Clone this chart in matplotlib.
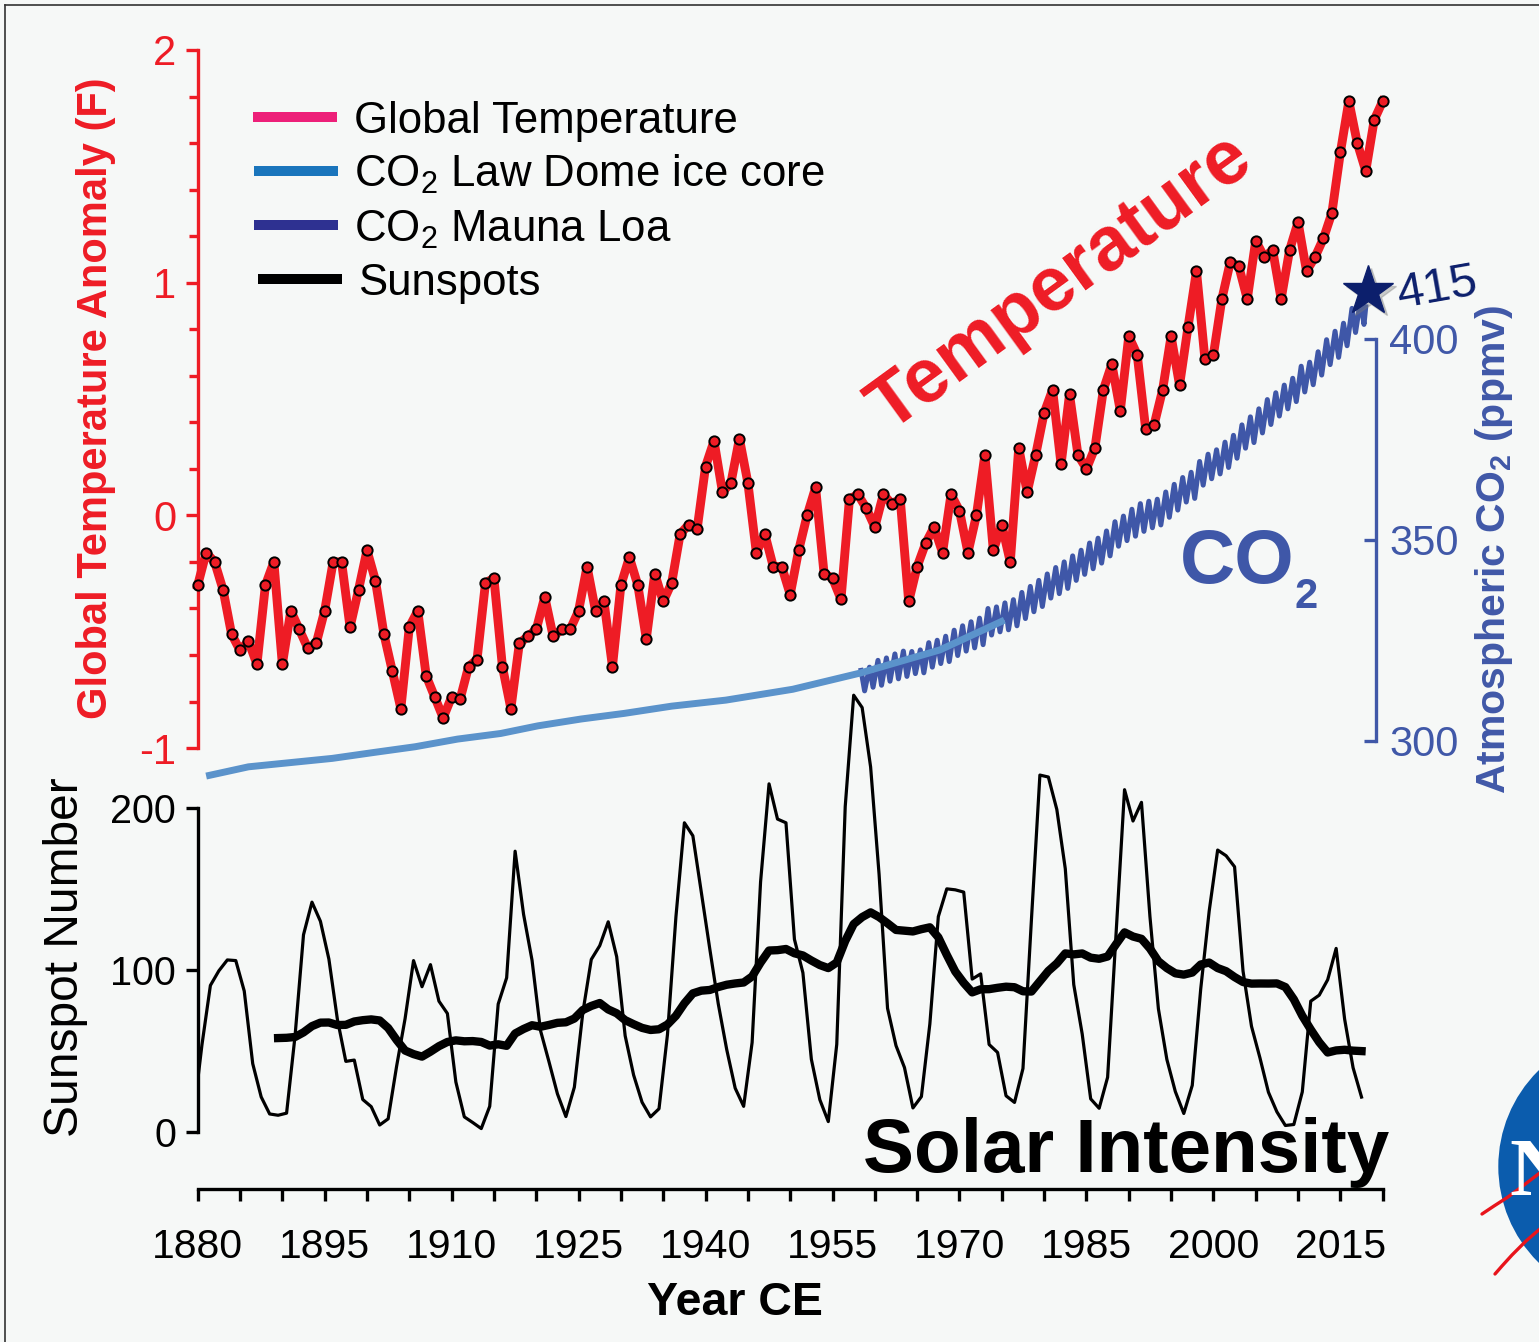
import matplotlib
matplotlib.use("Agg")
import matplotlib.pyplot as plt
import matplotlib.transforms as mtransforms
from matplotlib.lines import Line2D
from matplotlib.patches import Ellipse
import numpy as np
import pandas as pd

plt.rcParams['font.family'] = ['Liberation Sans', 'DejaVu Sans']
plt.rcParams['mathtext.default'] = 'regular'
plt.rcParams['axes.unicode_minus'] = False

# ---- data ----
temp_years = np.arange(1880, 2021)
temp_f = [
    -0.30, -0.16, -0.20, -0.32, -0.51, -0.58, -0.54, -0.64, -0.30, -0.20,   # 1880s
    -0.64, -0.41, -0.49, -0.57, -0.55, -0.41, -0.20, -0.20, -0.48, -0.32,   # 1890s
    -0.15, -0.28, -0.51, -0.67, -0.83, -0.48, -0.41, -0.69, -0.78, -0.87,   # 1900s
    -0.78, -0.79, -0.65, -0.62, -0.29, -0.27, -0.65, -0.83, -0.55, -0.52,   # 1910s
    -0.49, -0.35, -0.52, -0.49, -0.49, -0.41, -0.22, -0.41, -0.37, -0.65,   # 1920s
    -0.30, -0.18, -0.30, -0.53, -0.25, -0.37, -0.29, -0.08, -0.04, -0.06,   # 1930s
    0.21, 0.32, 0.10, 0.14, 0.33, 0.14, -0.16, -0.08, -0.22, -0.22,         # 1940s
    -0.34, -0.15, 0.00, 0.12, -0.25, -0.27, -0.36, 0.07, 0.09, 0.03,        # 1950s
    -0.05, 0.09, 0.05, 0.07, -0.37, -0.22, -0.12, -0.05, -0.16, 0.09,       # 1960s
    0.02, -0.16, 0.00, 0.26, -0.15, -0.04, -0.20, 0.29, 0.10, 0.26,         # 1970s
    0.44, 0.54, 0.22, 0.52, 0.26, 0.20, 0.29, 0.54, 0.65, 0.45,             # 1980s
    0.77, 0.69, 0.37, 0.39, 0.54, 0.77, 0.56, 0.81, 1.05, 0.67,             # 1990s
    0.69, 0.93, 1.09, 1.07, 0.93, 1.18, 1.11, 1.14, 0.93, 1.14,             # 2000s
    1.26, 1.05, 1.11, 1.19, 1.30, 1.56, 1.78, 1.60, 1.48, 1.70,             # 2010s
    1.78,                                                                   # 2020
]

sun_years = np.arange(1879, 2018) + 0.5
sunspots = [
    10.0,                                                                   # 1879
    53.8, 90.5, 99.5, 106.2, 105.8, 87.0, 42.3, 21.8, 11.3, 10.5,           # 1880s
    11.8, 59.3, 121.7, 141.8, 130.0, 106.7, 69.7, 43.7, 44.5, 20.2,         # 1890s
    15.8, 4.5, 8.3, 40.7, 70.0, 105.8, 89.7, 103.3, 80.8, 73.2,             # 1900s
    31.0, 9.5, 6.0, 2.3, 16.0, 79.0, 95.2, 173.2, 134.3, 106.0,             # 1910s
    62.7, 43.5, 23.7, 9.7, 27.8, 73.8, 106.5, 115.0, 129.7, 108.2,          # 1920s
    59.5, 35.3, 18.5, 9.5, 14.5, 60.2, 132.8, 190.7, 182.7, 148.0,          # 1930s
    113.0, 79.2, 51.0, 27.2, 16.0, 55.3, 154.3, 214.7, 193.0, 190.7,        # 1940s
    118.9, 98.3, 45.0, 20.1, 6.6, 54.2, 200.7, 269.3, 261.7, 225.1,         # 1950s
    159.0, 76.4, 53.4, 39.9, 15.0, 22.0, 66.8, 132.9, 150.0, 149.4,         # 1960s
    148.0, 94.4, 97.6, 54.1, 49.2, 22.5, 18.4, 39.3, 131.0, 220.1,          # 1970s
    218.9, 198.9, 162.4, 91.0, 60.5, 20.6, 14.8, 33.9, 123.0, 211.1,        # 1980s
    191.8, 203.3, 133.0, 76.1, 44.9, 25.1, 11.6, 28.9, 88.3, 136.3,         # 1990s
    173.9, 170.4, 163.6, 99.3, 65.3, 45.8, 24.7, 12.6, 4.2, 4.8,            # 2000s
    24.9, 80.8, 84.5, 94.0, 113.3, 69.8, 39.8, 21.7,                        # 2010s
]

law_dome_years = [1881.0, 1886.0, 1895.9, 1900.9, 1905.7, 1910.7, 1915.8, 1920.2,
                  1925.3, 1930.4, 1936.0, 1942.4, 1950.3, 1958.2, 1967.7, 1975.3]
law_dome_ppm = [291.2, 293.5, 295.6, 297.1, 298.5, 300.4, 301.8, 303.7,
                305.4, 306.8, 308.6, 310.1, 312.8, 316.8, 322.6, 330.0]

ml_years = np.arange(1958, 2018)
ml_may = [317.5, 318.3, 320.0, 320.6, 321.6, 322.3, 322.2, 322.6, 324.4, 325.0,
          326.0, 327.5, 328.6, 329.6, 330.5, 332.9, 333.3, 334.3, 335.1, 336.9,
          338.4, 339.9, 341.5, 343.1, 344.5, 346.0, 347.4, 349.2, 350.4, 352.2,
          354.5, 355.9, 357.6, 359.0, 359.6, 360.1, 361.9, 363.8, 365.5, 366.8,
          369.5, 371.3, 372.4, 374.3, 376.0, 378.6, 380.6, 382.6, 384.9, 386.6,
          388.5, 390.2, 393.2, 394.2, 396.8, 399.8, 401.9, 403.9, 407.6, 409.6]
ml_oct = [312.4, 313.3, 313.8, 314.8, 315.4, 316.0, 316.7, 316.9, 318.3, 319.2,
          319.7, 321.2, 322.3, 323.1, 323.9, 326.3, 327.1, 327.6, 328.6, 330.4,
          332.1, 333.4, 335.5, 336.6, 337.9, 339.9, 341.4, 342.8, 344.2, 346.0,
          348.4, 349.8, 350.9, 352.1, 353.0, 353.7, 355.6, 357.4, 359.4, 360.3,
          363.6, 365.2, 366.4, 368.0, 370.3, 372.8, 374.2, 376.6, 378.7, 380.8,
          382.6, 384.4, 386.8, 388.6, 391.0, 393.6, 395.4, 398.3, 401.6, 403.6]
ml_last_year, ml_last_ppm = 2018.0, 408.0
record_year, record_ppm, record_label = 2018.3, 412.0, "415"

year_ticks = [1880, 1895, 1910, 1925, 1940, 1955, 1970, 1985, 2000, 2015]
temp_ticks = [-1, 0, 1, 2]
co2_ticks = [300, 350, 400]
sun_ticks = [0, 100, 200]

# ---- colours ----
BG = '#f6f8f7'
RED = '#ee1c25'
CO2_AXIS = '#4058a8'
ML_LINE = '#3f57a8'
LD_LINE = '#5b93cb'
NAVY = '#0c1f6c'

# ---- figure, pixel helpers ----
W, H = 1539, 1342
fig = plt.figure(figsize=(W / 100, H / 100), dpi=100, facecolor=BG)


def fx(px):
    return px / W


def fy(py):
    return 1 - py / H


L, R, T, B = 197.7, 1382.7, 50.0, 1188.5
rect = [fx(L), fy(B), (R - L) / W, (B - T) / H]

ax_s = fig.add_axes(rect, zorder=1)
ax_c = fig.add_axes(rect, zorder=2)
ax_t = fig.add_axes(rect, zorder=3)
for ax in (ax_s, ax_c, ax_t):
    ax.set_facecolor('none')
    ax.set_xlim(1880, 2020)
    for s in ax.spines.values():
        s.set_visible(False)

# temperature: 2 at y=50, 1 at y=282.7
t_px = 232.7
ax_t.set_ylim(2 - (B - T) / t_px, 2)
# co2: 300 at y=740.7, 400 at y=338.9
c_px = (740.7 - 338.9) / 100
ax_c.set_ylim(300 + (740.7 - B) / c_px, 300 + (740.7 - T) / c_px)
# sunspots: 0 at y=1132.3, 200 at y=807.7
s_px = (1132.3 - 807.7) / 200
ax_s.set_ylim((1132.3 - B) / s_px, (1132.3 - T) / s_px)

# ---- sunspots ----
sun_mean = pd.Series(sunspots).rolling(11).mean()
ax_s.plot(sun_years, sunspots, color='black', lw=2.3, zorder=2)
ax_s.plot(sun_years, sun_mean, color='black', lw=6.0, zorder=3)

ax_s.spines['left'].set_visible(True)
ax_s.spines['left'].set_bounds(0, 200)
ax_s.spines['left'].set_linewidth(2.4)
ax_s.spines['bottom'].set_visible(True)
ax_s.spines['bottom'].set_bounds(1880, 2020)
ax_s.spines['bottom'].set_linewidth(2.4)
ax_s.set_yticks(sun_ticks)
ax_s.set_xticks(year_ticks)
ax_s.set_xticks(np.arange(1880, 2021, 5), minor=True)
ax_s.tick_params(axis='y', direction='out', length=8.6, width=2.4, labelsize=28.5, pad=7)
ax_s.tick_params(axis='x', which='both', direction='out', length=8.6, width=2.4,
                 labelsize=29.5, pad=19.5)

# ---- CO2 ----
ml_x = np.column_stack([ml_years + 0.37, ml_years + 0.79]).ravel()
ml_v = np.column_stack([ml_may, ml_oct]).ravel()
ml_x = np.append(ml_x, ml_last_year)
ml_v = np.append(ml_v, ml_last_ppm)
ax_c.plot(ml_x, ml_v, color=ML_LINE, lw=3.6, zorder=2)
ax_c.plot(law_dome_years, law_dome_ppm, color=LD_LINE, lw=5.0, zorder=3,
          solid_capstyle='butt')

shadow = mtransforms.offset_copy(ax_c.transData, fig=fig, x=3, y=-3, units='dots')
ax_c.plot([record_year], [record_ppm], marker='*', ms=38, color='#777777',
          alpha=0.35, transform=shadow, clip_on=False, zorder=4)
ax_c.plot([record_year], [record_ppm], marker='*', ms=38, color=NAVY,
          mec=NAVY, clip_on=False, zorder=5)

ax_c.spines['right'].set_visible(True)
ax_c.spines['right'].set_position(('data', 1880 + (1375.7 - L) / ((R - L) / 140)))
ax_c.spines['right'].set_bounds(300, 400)
ax_c.spines['right'].set_color(CO2_AXIS)
ax_c.spines['right'].set_linewidth(2.4)
ax_c.yaxis.tick_right()
ax_c.set_yticks(co2_ticks)
ax_c.tick_params(axis='y', direction='in', length=8.6, width=2.4, colors=CO2_AXIS,
                 labelsize=30, pad=9.8)
ax_c.tick_params(axis='x', bottom=False, labelbottom=False)

# ---- temperature ----
ax_t.plot(temp_years, temp_f, color=RED, lw=6.4, marker='o', ms=7.4,
          mfc=RED, mec='black', mew=1.4, zorder=3, clip_on=False)
ax_t.spines['left'].set_visible(True)
ax_t.spines['left'].set_bounds(-1, 2)
ax_t.spines['left'].set_color(RED)
ax_t.spines['left'].set_linewidth(2.4)
ax_t.set_yticks(temp_ticks)
ax_t.set_yticks(np.arange(-1, 2.001, 0.2), minor=True)
ax_t.tick_params(axis='y', which='major', direction='out', length=8.6, width=2.4,
                 colors=RED, labelsize=30, pad=7)
ax_t.tick_params(axis='y', which='minor', direction='out', length=6.5, width=2.4,
                 colors=RED)
ax_t.tick_params(axis='x', bottom=False, labelbottom=False)

# ---- axis titles ----
fig.text(fx(106.7), fy(398.5), 'Global Temperature Anomaly (F)', rotation=90,
         rotation_mode='anchor', ha='center', va='baseline', fontsize=30,
         fontweight='bold', color=RED)
fig.text(fx(78.3), fy(957.5), 'Sunspot Number', rotation=90, rotation_mode='anchor',
         ha='center', va='baseline', fontsize=34.5, color='black')
fig.text(fx(1505), fy(549.5), 'Atmospheric CO$_2$ (ppmv)', rotation=90,
         rotation_mode='anchor', ha='center', va='baseline', fontsize=29.5,
         fontweight='bold', color=CO2_AXIS)
fig.text(fx(735), fy(1315), 'Year CE', ha='center', va='baseline', fontsize=33.5,
         fontweight='bold', color='black')

# ---- big annotations ----
fig.text(fx(889), fy(433), 'Temperature', rotation=36, rotation_mode='anchor',
         ha='left', va='baseline', fontsize=54.5, fontweight='bold', color=RED)
fig.text(fx(1180), fy(583), 'CO', ha='left', va='baseline', fontsize=55,
         fontweight='bold', color=ML_LINE)
fig.text(fx(1295), fy(608), '2', ha='left', va='baseline', fontsize=30,
         fontweight='bold', color=ML_LINE)
fig.text(fx(1389), fy(1171.7), 'Solar Intensity', ha='right', va='baseline',
         fontsize=55, fontweight='bold', color='black')
fig.text(fx(1400), fy(308), record_label, rotation=10, rotation_mode='anchor',
         ha='left', va='baseline', fontsize=35, color=NAVY)

# ---- legend ----
legend_rows = [
    ('Global Temperature', '#ed2079', 117, 133.3, 253, 354),
    ('CO$_2$ Law Dome ice core', '#1a75bc', 171, 186.7, 254, 354),
    ('CO$_2$ Mauna Loa', '#2e3191', 225, 241.7, 254, 354),
    ('Sunspots', 'black', 279, 295.0, 258, 358),
]
for label, col, ly, base, lx, tx in legend_rows:
    fig.add_artist(Line2D([fx(lx), fx(lx + 84)], [fy(ly), fy(ly)], color=col, lw=7.2,
                          solid_capstyle='butt'))
    fig.text(fx(tx), fy(base), label, ha='left', va='baseline', fontsize=31.5,
             color='black')

# ---- frame ----
fig.add_artist(Line2D([fx(4.5), fx(4.5)], [0, fy(4.5)], color='#333333', lw=1.2))
fig.add_artist(Line2D([fx(4.5), 1], [fy(4.5), fy(4.5)], color='#333333', lw=1.2))

# ---- logo at the right edge ----
fig.add_artist(Ellipse((fx(1633), fy(1166.5)), 2 * 134.7 / W, 2 * 134.7 / H,
                       transform=fig.transFigure, facecolor='#0b5cad', edgecolor='none'))
fig.text(fx(1509), fy(1195), 'N', ha='left', va='baseline', fontsize=60,
         fontweight='bold', family='Liberation Serif', color='white')
fig.add_artist(Line2D([fx(1482), fx(1494), fx(1508), fx(1524), fx(1541)],
                      [fy(1214), fy(1206), fy(1197), fy(1185), fy(1172)],
                      color='#e8141b', lw=2.4, solid_capstyle='round'))
fig.add_artist(Line2D([fx(1495), fx(1502), fx(1512), fx(1526), fx(1541)],
                      [fy(1274), fy(1266), fy(1255), fy(1241), fy(1228)],
                      color='#e8141b', lw=2.4, solid_capstyle='round'))

fig.savefig('out.png', dpi=100, facecolor=BG)
